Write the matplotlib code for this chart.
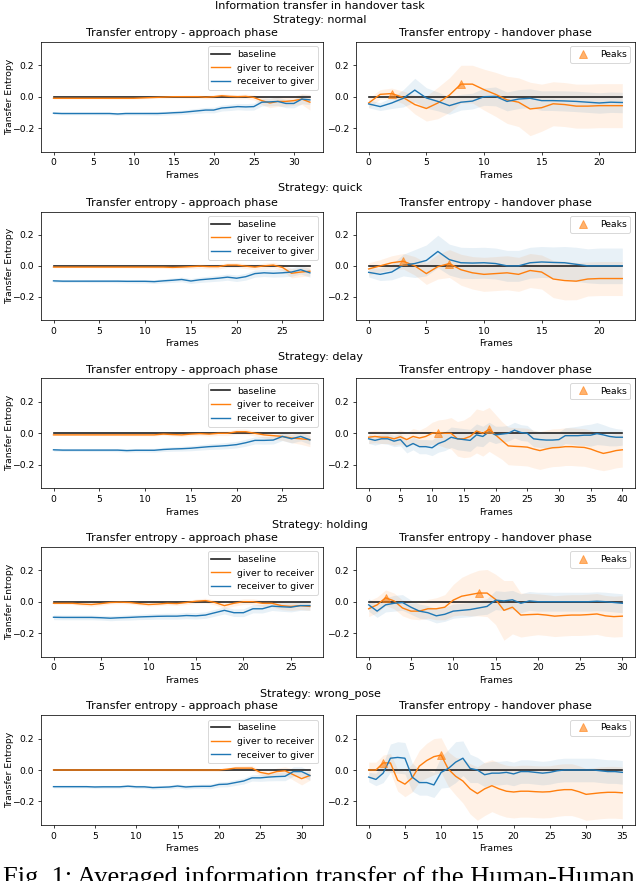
# transfer entropy figure, 5 strategies x (approach, handover)
import numpy as np
import matplotlib.pyplot as plt

strategies = ['normal', 'quick', 'delay', 'holding', 'wrong_pose']

# --- normal ---
normal_app_g2r = [-0.010, -0.010, -0.010, -0.010, -0.010, -0.010, -0.010, -0.010, -0.010, -0.010, -0.010, -0.008, -0.006, -0.004, -0.002, 0.000, 0.000, 0.000, 0.000, -0.003, 0.000, 0.006, 0.002, 0.000, 0.002, -0.005, -0.025, -0.040, -0.030, -0.030, -0.025, -0.015, -0.035]
normal_app_g2r_sd = [0.004, 0.004, 0.004, 0.004, 0.004, 0.004, 0.004, 0.005, 0.005, 0.005, 0.005, 0.006, 0.006, 0.007, 0.008, 0.008, 0.009, 0.010, 0.010, 0.011, 0.012, 0.012, 0.013, 0.014, 0.015, 0.016, 0.025, 0.030, 0.032, 0.030, 0.030, 0.035, 0.050]
normal_app_r2g = [-0.105, -0.107, -0.107, -0.107, -0.107, -0.107, -0.107, -0.107, -0.110, -0.107, -0.107, -0.107, -0.107, -0.107, -0.105, -0.102, -0.100, -0.095, -0.090, -0.085, -0.085, -0.072, -0.068, -0.063, -0.065, -0.063, -0.035, -0.033, -0.030, -0.043, -0.043, -0.015, -0.020]
normal_app_r2g_sd = [0.008, 0.008, 0.008, 0.008, 0.008, 0.008, 0.009, 0.009, 0.009, 0.010, 0.010, 0.010, 0.011, 0.012, 0.012, 0.013, 0.014, 0.015, 0.016, 0.017, 0.018, 0.019, 0.020, 0.020, 0.021, 0.022, 0.024, 0.025, 0.026, 0.027, 0.028, 0.030, 0.030]
normal_ho_g2r = [-0.040, 0.015, 0.020, -0.005, -0.050, -0.075, -0.040, 0.010, 0.080, 0.080, 0.045, 0.015, -0.020, -0.035, -0.078, -0.070, -0.045, -0.050, -0.060, -0.060, -0.057, -0.057, -0.057]
normal_ho_g2r_sd = [0.030, 0.030, 0.035, 0.040, 0.060, 0.080, 0.100, 0.110, 0.120, 0.120, 0.130, 0.140, 0.150, 0.155, 0.170, 0.150, 0.140, 0.140, 0.140, 0.140, 0.140, 0.140, 0.140]
normal_ho_r2g = [-0.046, -0.063, -0.040, -0.010, 0.042, -0.008, -0.030, -0.057, -0.035, -0.028, 0.000, 0.002, -0.030, -0.015, -0.010, -0.025, -0.025, -0.027, -0.030, -0.035, -0.040, -0.035, -0.037]
normal_ho_r2g_sd = [0.025, 0.025, 0.035, 0.055, 0.075, 0.065, 0.060, 0.055, 0.050, 0.050, 0.055, 0.060, 0.060, 0.060, 0.060, 0.062, 0.063, 0.064, 0.065, 0.065, 0.065, 0.065, 0.065]
normal_peaks = [2, 8]

# --- quick ---
quick_app_g2r = [-0.008, -0.008, -0.008, -0.008, -0.008, -0.008, -0.008, -0.008, -0.008, -0.008, -0.008, -0.008, -0.008, -0.010, -0.008, -0.005, -0.002, -0.005, -0.005, 0.005, 0.005, -0.002, -0.008, 0.000, 0.005, -0.010, -0.048, -0.040, -0.035]
quick_app_g2r_sd = [0.004, 0.004, 0.004, 0.004, 0.004, 0.005, 0.005, 0.005, 0.005, 0.006, 0.006, 0.007, 0.008, 0.009, 0.010, 0.012, 0.013, 0.014, 0.015, 0.015, 0.016, 0.016, 0.017, 0.018, 0.018, 0.020, 0.030, 0.030, 0.030]
quick_app_r2g = [-0.097, -0.099, -0.099, -0.099, -0.099, -0.099, -0.099, -0.099, -0.100, -0.100, -0.100, -0.102, -0.097, -0.093, -0.088, -0.098, -0.090, -0.085, -0.080, -0.073, -0.080, -0.070, -0.050, -0.045, -0.048, -0.045, -0.040, -0.025, -0.045]
quick_app_r2g_sd = [0.008, 0.008, 0.008, 0.008, 0.009, 0.009, 0.009, 0.010, 0.010, 0.011, 0.011, 0.012, 0.013, 0.014, 0.015, 0.016, 0.017, 0.018, 0.019, 0.020, 0.021, 0.022, 0.023, 0.024, 0.025, 0.026, 0.027, 0.028, 0.028]
quick_ho_g2r = [-0.020, 0.000, 0.020, 0.030, 0.000, -0.050, -0.005, 0.015, -0.025, -0.045, -0.055, -0.050, -0.045, -0.055, -0.030, -0.040, -0.085, -0.095, -0.099, -0.085, -0.082, -0.082, -0.082]
quick_ho_g2r_sd = [0.040, 0.040, 0.045, 0.050, 0.060, 0.070, 0.080, 0.090, 0.100, 0.105, 0.110, 0.110, 0.110, 0.110, 0.110, 0.110, 0.120, 0.125, 0.120, 0.110, 0.110, 0.110, 0.110]
quick_ho_r2g = [-0.042, -0.055, -0.040, 0.005, 0.015, 0.035, 0.093, 0.040, 0.020, 0.018, 0.020, 0.015, 0.000, 0.000, 0.020, 0.025, 0.022, 0.020, 0.010, 0.000, 0.000, 0.000, 0.000]
quick_ho_r2g_sd = [0.030, 0.040, 0.050, 0.070, 0.090, 0.100, 0.105, 0.100, 0.100, 0.100, 0.100, 0.100, 0.100, 0.100, 0.100, 0.100, 0.100, 0.105, 0.110, 0.110, 0.115, 0.115, 0.115]
quick_peaks = [3, 7]

# --- delay ---
delay_app_g2r = [-0.010, -0.010, -0.010, -0.010, -0.010, -0.010, -0.010, -0.010, -0.010, -0.010, -0.010, -0.010, -0.005, -0.008, -0.010, -0.005, -0.002, -0.005, 0.000, 0.000, 0.010, 0.010, 0.000, -0.010, -0.015, -0.020, -0.030, -0.035, -0.040]
delay_app_g2r_sd = [0.004, 0.004, 0.004, 0.004, 0.005, 0.005, 0.005, 0.005, 0.006, 0.006, 0.006, 0.007, 0.008, 0.009, 0.010, 0.011, 0.012, 0.013, 0.014, 0.015, 0.016, 0.017, 0.018, 0.020, 0.022, 0.025, 0.030, 0.035, 0.045]
delay_app_r2g = [-0.105, -0.107, -0.107, -0.107, -0.107, -0.107, -0.107, -0.107, -0.110, -0.108, -0.108, -0.108, -0.103, -0.100, -0.098, -0.095, -0.090, -0.085, -0.082, -0.078, -0.072, -0.060, -0.045, -0.045, -0.043, -0.020, -0.035, -0.020, -0.042]
delay_app_r2g_sd = [0.008, 0.008, 0.008, 0.008, 0.009, 0.009, 0.009, 0.010, 0.010, 0.011, 0.011, 0.012, 0.013, 0.014, 0.015, 0.016, 0.017, 0.018, 0.019, 0.020, 0.021, 0.022, 0.023, 0.024, 0.025, 0.026, 0.027, 0.028, 0.028]
delay_ho_g2r = [-0.025, -0.020, -0.025, -0.025, -0.035, -0.022, -0.040, -0.020, -0.030, -0.020,
                0.000, 0.005, 0.000, 0.000, -0.035, -0.035, -0.020, 0.015, 0.000, 0.025,
                -0.010, -0.045, -0.080, -0.083, -0.085, -0.088, -0.100, -0.110, -0.100, -0.092,
                -0.090, -0.085, -0.085, -0.088, -0.090, -0.100, -0.115, -0.128, -0.120, -0.110,
                -0.105]
delay_ho_g2r_sd = [0.040, 0.040, 0.040, 0.040, 0.040, 0.045, 0.045, 0.050, 0.050, 0.060,
                   0.070, 0.080, 0.090, 0.100, 0.110, 0.120, 0.130, 0.140, 0.145, 0.140,
                   0.130, 0.120, 0.120, 0.120, 0.120, 0.120, 0.120, 0.120, 0.120, 0.120,
                   0.120, 0.120, 0.120, 0.120, 0.120, 0.120, 0.115, 0.110, 0.110, 0.110,
                   0.110]
delay_ho_r2g = [-0.035, -0.045, -0.035, -0.035, -0.050, -0.040, -0.085, -0.065, -0.085, -0.085,
                -0.092, -0.065, -0.050, -0.025, -0.035, -0.040, -0.045, -0.010, -0.020, 0.010,
                -0.010, -0.005, 0.000, 0.020, 0.005, 0.000, -0.035, -0.040, -0.043, -0.043,
                -0.040, -0.015, -0.015, -0.015, -0.012, -0.012, -0.002, -0.010, -0.020, -0.025,
                -0.025]
delay_ho_r2g_sd = [0.030, 0.030, 0.030, 0.035, 0.035, 0.040, 0.040, 0.040, 0.045, 0.045,
                   0.050, 0.055, 0.060, 0.065, 0.070, 0.070, 0.070, 0.070, 0.065, 0.060,
                   0.055, 0.050, 0.050, 0.050, 0.050, 0.050, 0.050, 0.050, 0.050, 0.050,
                   0.050, 0.050, 0.055, 0.060, 0.065, 0.070, 0.070, 0.065, 0.060, 0.055,
                   0.050]
delay_peaks = [11, 19]

# --- holding ---
holding_app_g2r = [-0.010, -0.010, -0.010, -0.015, -0.018, -0.012, -0.005, -0.003, -0.005, -0.012, -0.018, -0.015, -0.010, -0.012, -0.005, 0.003, 0.007, -0.005, -0.025, -0.010, 0.000, 0.000, -0.010, -0.010, -0.025, -0.030, -0.025, -0.030]
holding_app_g2r_sd = [0.006, 0.006, 0.008, 0.010, 0.012, 0.012, 0.010, 0.010, 0.010, 0.010, 0.010, 0.010, 0.011, 0.012, 0.013, 0.014, 0.015, 0.016, 0.018, 0.018, 0.018, 0.018, 0.020, 0.022, 0.025, 0.025, 0.025, 0.025]
holding_app_r2g = [-0.099, -0.100, -0.100, -0.100, -0.100, -0.102, -0.105, -0.102, -0.100, -0.097, -0.095, -0.093, -0.092, -0.092, -0.088, -0.090, -0.085, -0.070, -0.055, -0.070, -0.070, -0.045, -0.045, -0.028, -0.032, -0.035, -0.025, -0.025]
holding_app_r2g_sd = [0.015, 0.015, 0.015, 0.015, 0.015, 0.015, 0.016, 0.016, 0.017, 0.017, 0.018, 0.018, 0.019, 0.019, 0.020, 0.020, 0.021, 0.022, 0.023, 0.024, 0.025, 0.026, 0.027, 0.028, 0.029, 0.030, 0.030, 0.030]
holding_ho_g2r = [-0.045, -0.020, 0.025, 0.005, -0.040, -0.060, -0.060, -0.045, -0.045, -0.035, 0.010, 0.035, 0.045, 0.055, 0.055, 0.015, -0.055, -0.035, -0.085, -0.082, -0.080, -0.085, -0.092, -0.088, -0.085, -0.085, -0.082, -0.078, -0.090, -0.095, -0.092]
holding_ho_g2r_sd = [0.050, 0.050, 0.050, 0.050, 0.050, 0.050, 0.055, 0.060, 0.070, 0.080, 0.100, 0.120, 0.135, 0.145, 0.150, 0.160, 0.190, 0.170, 0.140, 0.135, 0.130, 0.130, 0.130, 0.130, 0.130, 0.130, 0.130, 0.130, 0.130, 0.130, 0.130]
holding_ho_r2g = [-0.020, -0.060, -0.020, -0.010, -0.005, -0.035, -0.060, -0.070, -0.090, -0.080, -0.060, -0.055, -0.050, -0.040, -0.030, 0.010, 0.005, 0.012, -0.010, 0.005, 0.000, 0.000, 0.000, 0.000, 0.000, 0.000, 0.000, 0.003, 0.000, -0.005, -0.010]
holding_ho_r2g_sd = [0.040, 0.040, 0.045, 0.050, 0.050, 0.045, 0.045, 0.045, 0.045, 0.045, 0.045, 0.045, 0.045, 0.045, 0.050, 0.060, 0.060, 0.060, 0.060, 0.060, 0.060, 0.060, 0.060, 0.060, 0.060, 0.060, 0.060, 0.060, 0.060, 0.060, 0.060]
holding_peaks = [2, 13]

# --- wrong_pose ---
wrong_app_g2r = [0.000, 0.000, 0.000, 0.000, 0.000, 0.000, 0.000, 0.000, 0.000, 0.000, 0.000, 0.000, 0.000, 0.000, 0.000, 0.000, 0.000, 0.000, 0.000, 0.000, 0.000, 0.005, 0.012, 0.012, 0.012, -0.015, -0.025, -0.010, -0.005, -0.030, -0.055, -0.035]
wrong_app_g2r_sd = [0.003, 0.003, 0.003, 0.003, 0.003, 0.003, 0.003, 0.003, 0.003, 0.004, 0.004, 0.004, 0.005, 0.005, 0.006, 0.006, 0.007, 0.007, 0.008, 0.008, 0.009, 0.010, 0.012, 0.014, 0.016, 0.018, 0.020, 0.022, 0.025, 0.035, 0.040, 0.030]
wrong_app_r2g = [-0.106, -0.106, -0.106, -0.106, -0.106, -0.108, -0.107, -0.107, -0.107, -0.103, -0.107, -0.107, -0.112, -0.110, -0.108, -0.102, -0.108, -0.105, -0.104, -0.104, -0.092, -0.090, -0.080, -0.070, -0.050, -0.050, -0.045, -0.042, -0.040, -0.010, -0.010, -0.035]
wrong_app_r2g_sd = [0.008, 0.008, 0.008, 0.008, 0.008, 0.009, 0.009, 0.009, 0.009, 0.010, 0.010, 0.010, 0.011, 0.011, 0.012, 0.012, 0.013, 0.013, 0.014, 0.015, 0.016, 0.017, 0.018, 0.019, 0.020, 0.022, 0.024, 0.026, 0.028, 0.030, 0.030, 0.030]
wrong_ho_g2r = [0.000, 0.000, 0.045, 0.045, -0.065, -0.090, -0.050, 0.025, 0.060, 0.085,
                0.095, 0.005, -0.040, -0.070, -0.120, -0.150, -0.120, -0.100, -0.120, -0.135,
                -0.140, -0.135, -0.135, -0.138, -0.140, -0.138, -0.130, -0.125, -0.125, -0.138,
                -0.155, -0.150, -0.145, -0.142, -0.142, -0.145]
wrong_ho_g2r_sd = [0.050, 0.050, 0.050, 0.060, 0.070, 0.080, 0.090, 0.100, 0.110, 0.115,
                   0.110, 0.110, 0.120, 0.140, 0.160, 0.170, 0.170, 0.165, 0.165, 0.165,
                   0.165, 0.165, 0.165, 0.165, 0.165, 0.165, 0.165, 0.165, 0.165, 0.165,
                   0.165, 0.165, 0.165, 0.165, 0.165, 0.165]
wrong_ho_r2g = [-0.045, -0.060, -0.020, 0.075, 0.080, 0.075, -0.045, -0.080, -0.080, -0.095,
                -0.015, 0.010, 0.050, 0.075, 0.010, 0.000, -0.030, -0.020, -0.020, -0.015,
                -0.025, -0.010, -0.010, -0.015, -0.020, -0.015, -0.005, 0.000, 0.000, 0.000,
                0.000, 0.000, -0.005, -0.010, -0.010, -0.015]
wrong_ho_r2g_sd = [0.030, 0.040, 0.060, 0.090, 0.100, 0.100, 0.090, 0.080, 0.080, 0.080,
                   0.100, 0.120, 0.130, 0.110, 0.090, 0.080, 0.075, 0.075, 0.075, 0.075,
                   0.075, 0.075, 0.075, 0.075, 0.075, 0.075, 0.075, 0.075, 0.075, 0.075,
                   0.075, 0.075, 0.075, 0.075, 0.075, 0.075]
wrong_peaks = [2, 10]

panels = [
    (normal_app_g2r, normal_app_g2r_sd, normal_app_r2g, normal_app_r2g_sd,
     normal_ho_g2r, normal_ho_g2r_sd, normal_ho_r2g, normal_ho_r2g_sd, normal_peaks),
    (quick_app_g2r, quick_app_g2r_sd, quick_app_r2g, quick_app_r2g_sd,
     quick_ho_g2r, quick_ho_g2r_sd, quick_ho_r2g, quick_ho_r2g_sd, quick_peaks),
    (delay_app_g2r, delay_app_g2r_sd, delay_app_r2g, delay_app_r2g_sd,
     delay_ho_g2r, delay_ho_g2r_sd, delay_ho_r2g, delay_ho_r2g_sd, delay_peaks),
    (holding_app_g2r, holding_app_g2r_sd, holding_app_r2g, holding_app_r2g_sd,
     holding_ho_g2r, holding_ho_g2r_sd, holding_ho_r2g, holding_ho_r2g_sd, holding_peaks),
    (wrong_app_g2r, wrong_app_g2r_sd, wrong_app_r2g, wrong_app_r2g_sd,
     wrong_ho_g2r, wrong_ho_g2r_sd, wrong_ho_r2g, wrong_ho_r2g_sd, wrong_peaks),
]

W, H = 640, 881
DPI = 67
fig = plt.figure(figsize=(W / DPI, H / DPI), dpi=DPI)

# pixel layout (top, bottom) of each row, and column x-extents
rows_px = [(41.7, 151.7), (211.7, 320.0), (378.3, 488.3), (546.7, 656.7), (715.0, 825.0)]
cols_px = [(40.7, 322.7), (356.0, 635.0)]
strat_y = [20, 188.3, 357, 525, 694]


def px_axes(x0, x1, top, bot):
    return fig.add_axes([x0 / W, 1 - bot / H, (x1 - x0) / W, (bot - top) / H])


def band(ax, x, m, s, color):
    m = np.array(m)
    s = np.array(s)
    ax.fill_between(x, m - s, m + s, color=color, alpha=0.1, lw=0)


fig.text(0.5, 1 - 6 / H, 'Information transfer in handover task', ha='center', va='center', fontsize=12)

for i, (ag, ags, ar, ars, hg, hgs, hr, hrs, pk) in enumerate(panels):
    top, bot = rows_px[i]
    fig.text(0.5, 1 - strat_y[i] / H, 'Strategy: ' + strategies[i], ha='center', va='center', fontsize=12)

    # approach phase
    ax1 = px_axes(cols_px[0][0], cols_px[0][1], top, bot)
    xa = np.arange(len(ag))
    ax1.plot(xa, np.zeros(len(xa)), color='#222222', lw=1.8, label='baseline')
    band(ax1, xa, ag, ags, 'C1')
    ax1.plot(xa, ag, color='C1', lw=1.5, label='giver to receiver')
    band(ax1, xa, ar, ars, 'C0')
    ax1.plot(xa, ar, color='C0', lw=1.5, label='receiver to giver')
    ax1.set_title('Transfer entropy - approach phase', fontsize=12)
    ax1.set_xlabel('Frames')
    ax1.set_ylabel('Transfer Entropy')
    ax1.yaxis.set_label_coords(-0.095, 0.5)
    ax1.set_ylim(-0.35, 0.35)
    ax1.legend(loc='upper right')

    # handover phase
    ax2 = px_axes(cols_px[1][0], cols_px[1][1], top, bot)
    xh = np.arange(len(hg))
    ax2.plot(xh, np.zeros(len(xh)), color='#222222', lw=1.8)
    band(ax2, xh, hg, hgs, 'C1')
    ax2.plot(xh, hg, color='C1', lw=1.5)
    band(ax2, xh, hr, hrs, 'C0')
    ax2.plot(xh, hr, color='C0', lw=1.5)
    ax2.plot(pk, [hg[p] for p in pk], '^', color='C1', alpha=0.6, ms=8.5, label='Peaks')
    ax2.set_title('Transfer entropy - handover phase', fontsize=12)
    ax2.set_xlabel('Frames')
    ax2.set_ylim(-0.35, 0.35)
    ax2.legend(loc='upper right')

# caption of the paper figure, cut off at the bottom of the image
fig.text(3 / W, 1 - 884 / H, 'Fig. 1: Averaged information transfer of the Human-Human',
         family='Liberation Serif', fontsize=28.4, ha='left', va='baseline')

fig.savefig('out.png', dpi=DPI)
